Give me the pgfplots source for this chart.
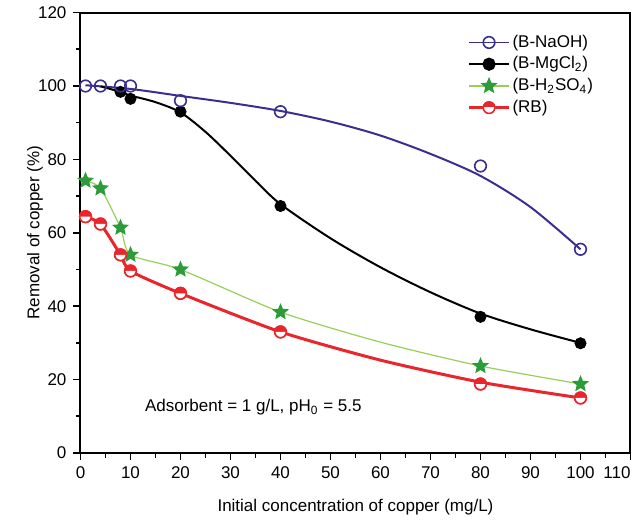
\documentclass[border=0pt]{standalone}
\usepackage{fontspec}
\setmainfont{Liberation Sans}
\usepackage{pgfplots}
\pgfplotsset{compat=1.18}

\definecolor{naoh}{HTML}{3A2F8F}
\definecolor{acidline}{HTML}{9ACD5B}
\definecolor{acidstar}{HTML}{2C9B3A}
\definecolor{rbred}{HTML}{E8262B}

% filled five-point star
\pgfdeclareplotmark{fstar}{%
  \pgfpathmoveto{\pgfpointpolar{90}{\pgfplotmarksize}}%
  \pgfpathlineto{\pgfpointpolar{126}{0.45\pgfplotmarksize}}%
  \pgfpathlineto{\pgfpointpolar{162}{\pgfplotmarksize}}%
  \pgfpathlineto{\pgfpointpolar{198}{0.45\pgfplotmarksize}}%
  \pgfpathlineto{\pgfpointpolar{234}{\pgfplotmarksize}}%
  \pgfpathlineto{\pgfpointpolar{270}{0.45\pgfplotmarksize}}%
  \pgfpathlineto{\pgfpointpolar{306}{\pgfplotmarksize}}%
  \pgfpathlineto{\pgfpointpolar{342}{0.45\pgfplotmarksize}}%
  \pgfpathlineto{\pgfpointpolar{18}{\pgfplotmarksize}}%
  \pgfpathlineto{\pgfpointpolar{54}{0.45\pgfplotmarksize}}%
  \pgfpathclose
  \pgfusepathqfillstroke}

% lower half filled with the fill colour, whole outline stroked
\pgfdeclareplotmark{lowhalf}{%
  \pgfpathmoveto{\pgfqpoint{\pgfplotmarksize}{0pt}}%
  \pgfpatharc{0}{-180}{\pgfplotmarksize}%
  \pgfpathclose
  \pgfusepathqfill
  \pgfpathcircle{\pgfpointorigin}{\pgfplotmarksize}%
  \pgfusepathqstroke}

\begin{document}
\begin{tikzpicture}[font=\fontsize{8.5}{10}\selectfont]
\begin{axis}[
  scale only axis, width=275pt, height=220.2pt,
  xmin=0, xmax=110, ymin=0, ymax=120,
  xtick={0,10,...,110},
  xticklabels={0,10,20,30,40,50,60,70,80,90,100,\makebox[0pt][r]{110}},
  ytick={0,20,...,120},
  minor x tick num=1, minor y tick num=1,
  tick pos=left, tick align=outside,
  major tick length=3.5pt, minor tick length=2.3pt,
  tick style={black, line width=0.8pt},
  axis line style={line width=1pt},
  /pgf/number format/assume math mode=true,
  tick label style={font=\fontsize{8.5}{10}\selectfont},
  xlabel={Initial concentration of copper (mg/L)},
  ylabel={Removal of copper (\%)},
  x label style={at={([yshift=-27pt]axis description cs:0.5,0)}, anchor=center},
  y label style={at={([xshift=-22.75pt]axis description cs:0,0.5)}, anchor=center},
  legend image code/.code={\draw[mark repeat=2,mark phase=2,#1]
    plot coordinates {(0pt,0pt)(10pt,0pt)(20pt,0pt)};},
  legend style={draw=none, fill=none, at={(0.703,0.955)}, anchor=north west,
    row sep=1.2pt, inner sep=0pt, nodes={inner sep=1pt},
    font=\fontsize{8.5}{10}\selectfont},
  legend cell align=left,
]
\coordinate (bl) at (rel axis cs:0,0);
\coordinate (tr) at (rel axis cs:1,1);

% fitted curves
\addplot[naoh, line width=1pt, smooth, forget plot] coordinates {
  (1,100.2)(10,99.2)(20,97.3)(30,95.4)(40,93.2)(50,90.3)(60,86.5)
  (70,81.5)(80,75.5)(90,67)(100,55.5)};
\addplot[black, line width=1pt, smooth, forget plot] coordinates {
  (4,99.9)(8,98.4)(10,97.4)(15,95.6)(20,92.8)(25,87.5)(30,81)(35,74.2)
  (40,67.8)(50,58.5)(60,50.6)(70,43.8)(80,38)(90,33.7)(100,30)};
\addplot[acidline, line width=0.6pt, smooth, tension=0.4, forget plot] coordinates {
  (1,74.2)(4,72.1)(8,61.4)(10,54)(20,50)(40,38.4)(60,30.2)(80,23.7)(100,18.8)};
\addplot[rbred, line width=1.5pt, smooth, tension=0.4, forget plot] coordinates {
  (1,64.4)(4,62.4)(8,54)(10,49.6)(20,43.5)(40,33)(60,25.3)(80,19.3)(100,15)};

% measured points
\addplot[only marks, mark=*, mark size=2.8pt, black, forget plot] coordinates {
  (8,98.4)(10,96.5)(20,93)(40,67.3)(80,37.1)(100,29.9)};
\addplot[only marks, mark=o, mark size=2.9pt, naoh, line width=0.8pt,
  mark options={fill=white}, forget plot] coordinates {
  (1,100)(4,100)(8,100)(10,100)(20,96)(40,93)(80,78.2)(100,55.5)};
\addplot[only marks, mark=fstar, mark size=3.8pt, line width=0.5pt,
  mark options={draw=acidstar, fill=acidstar}, forget plot] coordinates {
  (1,74.2)(4,72.1)(8,61.4)(10,54)(20,50)(40,38.4)(80,23.7)(100,18.8)};
\addplot[only marks, mark=*, mark size=2.9pt, rbred, line width=0.8pt,
  forget plot] coordinates {
  (1,64.4)(4,62.4)(8,54)(10,49.6)(20,43.5)(40,33)(80,18.8)(100,15)};
\addplot[only marks, mark=lowhalf, mark size=2.9pt, rbred, line width=0.8pt,
  mark options={fill=white}, forget plot] coordinates {
  (1,64.4)(4,62.4)(8,54)(10,49.6)(20,43.5)(40,33)(80,18.8)(100,15)};

\addlegendimage{naoh, line width=0.8pt, mark=o, mark size=2.9pt, mark options={fill=white}}
\addlegendimage{black, line width=1pt, mark=*, mark size=2.8pt}
\addlegendimage{acidline, line width=0.6pt, mark=fstar, mark size=3.8pt,
  mark options={draw=acidstar, fill=acidstar, line width=0.5pt}}
\addlegendimage{legend image code/.code={
  \draw[rbred, line width=1.5pt] (0pt,0pt) -- (20pt,0pt);
  \fill[rbred] (10pt,0pt) circle (2.9pt);
  \fill[white] (12.9pt,0pt) arc (0:-180:2.9pt) -- cycle;
  \draw[rbred, line width=0.8pt] (10pt,0pt) circle (2.9pt);}}
\legend{(B-NaOH), (B-MgCl\textsubscript{2}), (B-H\textsubscript{2}SO\textsubscript{4}), (RB)}

\node[anchor=base west] at (axis cs:11.5,11.2) {Adsorbent = 1 g/L, pH\textsubscript{0} = 5.5};
\end{axis}
\pgfresetboundingbox
\path[use as bounding box] ([shift={(-40.25pt,-36pt)}]bl) rectangle ([shift={(1.75pt,6.3pt)}]tr);
\end{tikzpicture}
\end{document}
